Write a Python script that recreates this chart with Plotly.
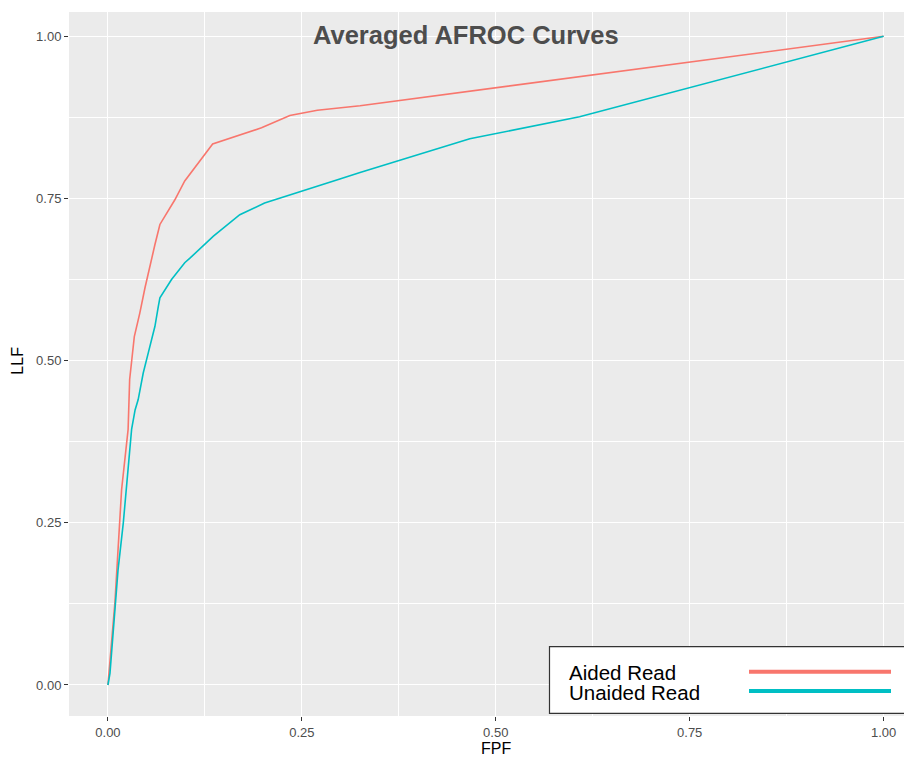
import plotly.graph_objects as go

# Data
aided_fpf = [0, 0.003, 0.009, 0.0176, 0.026, 0.028, 0.0305, 0.034, 0.041, 0.0477,
             0.0606, 0.067, 0.0863, 0.099, 0.135, 0.198, 0.2345, 0.27, 0.325, 1.0]
aided_llf = [0, 0.04, 0.127, 0.301, 0.394, 0.471, 0.502, 0.537, 0.573, 0.612,
             0.679, 0.710, 0.748, 0.777, 0.834, 0.859, 0.878, 0.886, 0.893, 1.0]

unaided_fpf = [0, 0.0026, 0.013, 0.0198, 0.0305, 0.035, 0.039, 0.0455, 0.052, 0.0606,
               0.065, 0.067, 0.082, 0.099, 0.1057, 0.136, 0.170, 0.202, 0.299, 0.325,
               0.4665, 0.608, 1.0]
unaided_llf = [0, 0.018, 0.177, 0.25, 0.394, 0.424, 0.440, 0.481, 0.512, 0.553,
               0.584, 0.597, 0.625, 0.651, 0.658, 0.692, 0.725, 0.743, 0.780, 0.790,
               0.842, 0.876, 1.0]

series_names = ["Aided Read", "Unaided Read"]
series_colors = ["#F8766D", "#00BFC4"]
tick_vals = [0, 0.25, 0.5, 0.75, 1.0]
tick_text = ["0.00", "0.25", "0.50", "0.75", "1.00"]

FONT = "Liberation Sans, Arial, sans-serif"

fig = go.Figure()
for xs, ys, name, col in [(aided_fpf, aided_llf, series_names[0], series_colors[0]),
                          (unaided_fpf, unaided_llf, series_names[1], series_colors[1])]:
    fig.add_trace(go.Scatter(x=xs, y=ys, mode="lines", name=name,
                             line=dict(color=col, width=1.6), showlegend=False))

axis_common = dict(
    tickvals=tick_vals, ticktext=tick_text,
    showgrid=True, gridcolor="white", gridwidth=1.4,
    zeroline=False, showline=False,
    ticks="outside", ticklen=4, tickwidth=1, tickcolor="#333333",
    tickfont=dict(family=FONT, size=13, color="#4D4D4D"),
    minor=dict(dtick=0.125, tick0=0, showgrid=True, gridcolor="white", gridwidth=0.7, ticks=""),
)
fig.update_xaxes(range=[-0.0502, 1.0366], **axis_common)
fig.update_yaxes(range=[-0.0478, 1.0375], **axis_common)

annotations = [
    dict(text="<b>Averaged AFROC Curves</b>", xref="paper", yref="paper",
         x=(466 - 69) / 843, y=(716 - 35) / 704, xanchor="center", yanchor="middle",
         showarrow=False, font=dict(family=FONT, size=25.5, color="#4D4D4D")),
    dict(text="FPF", xref="x", yref="paper", x=0.5, y=0, yshift=-32,
         xanchor="center", yanchor="middle", showarrow=False,
         font=dict(family=FONT, size=16, color="black")),
    dict(text="LLF", xref="paper", yref="y", x=0, y=0.5, xshift=-51,
         xanchor="center", yanchor="middle", textangle=-90, showarrow=False,
         font=dict(family=FONT, size=16, color="black")),
]

# Custom legend (text on the left, line key on the right)
legend_text_y = [(716 - 672) / 704, (716 - 692) / 704]
legend_line_y = [(716 - 671.7) / 704, (716 - 691) / 704]
shapes = [dict(type="rect", xref="paper", yref="paper",
               x0=(549.5 - 69) / 843, x1=(916 - 69) / 843,
               y0=(716 - 713.3) / 704, y1=(716 - 646.7) / 704,
               fillcolor="white", line=dict(color="#333333", width=1.2), layer="above")]
for i, (name, col) in enumerate(zip(series_names, series_colors)):
    shapes.append(dict(type="line", xref="paper", yref="paper",
                       x0=(749 - 69) / 843, x1=(891 - 69) / 843,
                       y0=legend_line_y[i], y1=legend_line_y[i],
                       line=dict(color=col, width=4), layer="above"))
    annotations.append(dict(text=name, xref="paper", yref="paper",
                            x=(567 - 69) / 843, y=legend_text_y[i],
                            xanchor="left", yanchor="middle", showarrow=False,
                            font=dict(family=FONT, size=20.5, color="black")))

# The page body has an 8px margin, so the figure is sized and offset to compensate
fig.update_layout(
    width=904, height=750,
    margin=dict(l=61, r=0, t=4, b=42),
    plot_bgcolor="#EBEBEB", paper_bgcolor="white",
    annotations=annotations, shapes=shapes,
    showlegend=False,
)

fig.write_html("out.html")
